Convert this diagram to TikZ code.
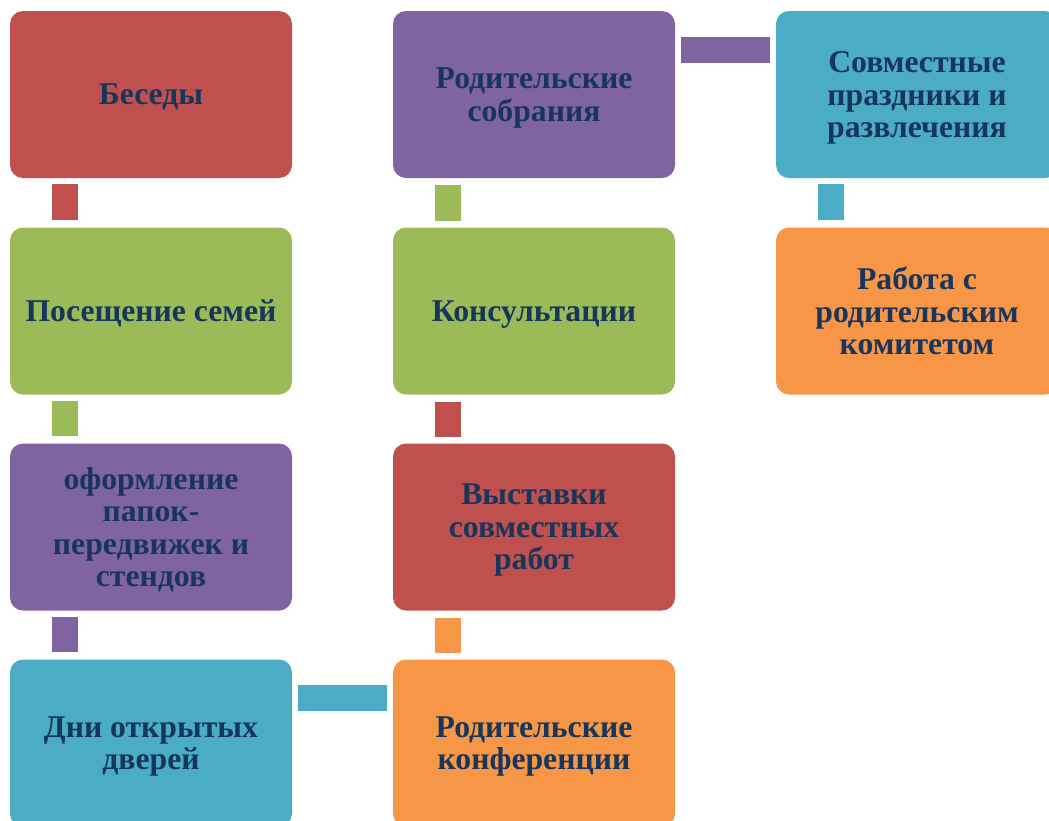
\documentclass[tikz,border=0pt]{standalone}
\usepackage{fontspec}
\setmainfont{Liberation Serif}
\usepackage{xcolor}
\usepackage{tikz}
\usetikzlibrary{calc}

\definecolor{boxred}{HTML}{C0504D}
\definecolor{boxgreen}{HTML}{9BBB59}
\definecolor{boxpurple}{HTML}{8064A2}
\definecolor{boxteal}{HTML}{4BACC6}
\definecolor{boxorange}{HTML}{F79646}
\definecolor{textblue}{HTML}{17365D}

\begin{document}
\begin{tikzpicture}[x=1pt,y=-1pt,
    card/.style={rounded corners=13pt, minimum width=282pt, minimum height=167pt,
                 inner sep=0pt, align=center, text=textblue, text depth=0pt,
                 font=\bfseries\fontsize{31.7}{32.5}\selectfont},
    link/.style={line width=26pt}]

\useasboundingbox (0,0) rectangle (1049,820);
\clip (0,0) rectangle (1049,820);

% First column
\node[card, fill=boxred]    (besedy)   at (151,94.5) {Беседы};
\node[card, fill=boxgreen]  (visits)   at (151,311)  {Посещение семей};
\node[card, fill=boxpurple] (stands)   at (151,527)  {оформление\\папок-\\передвижек и\\стендов};
\node[card, fill=boxteal]   (opendays) at (151,743)  {Дни открытых\\дверей};

% Second column
\node[card, fill=boxpurple] (meeting)  at (534,94.5) {Родительские\\собрания};
\node[card, fill=boxgreen]  (consult)  at (534,311)  {Консультации};
\node[card, fill=boxred]    (exhib)    at (534,527)  {Выставки\\совместных\\работ};
\node[card, fill=boxorange] (conf)     at (534,743)  {Родительские\\конференции};

% Third column
\node[card, fill=boxteal]   (holidays)  at (917,94.5) {Совместные\\праздники и\\развлечения};
\node[card, fill=boxorange] (committee) at (917,311)  {Работа с\\родительским\\комитетом};

% Links down the first column
\draw[link, boxred]    ($(besedy.south west)+(55,6)$) -- ($(visits.north west)+(55,-7)$);
\draw[link, boxgreen]  ($(visits.south west)+(55,6)$) -- ($(stands.north west)+(55,-7)$);
\draw[link, boxpurple] ($(stands.south west)+(55,6)$) -- ($(opendays.north west)+(55,-7)$);

% Link across the bottom
\draw[link, boxteal] ($(opendays.north east)+(6,39)$) -- ($(conf.north west)+(-6,39)$);

% Links up the second column
\draw[link, boxorange] ($(conf.north west)+(55,-6)$) -- ($(exhib.south west)+(55,7)$);
\draw[link, boxred]    ($(exhib.north west)+(55,-6)$) -- ($(consult.south west)+(55,7)$);
\draw[link, boxgreen]  ($(consult.north west)+(55,-6)$) -- ($(meeting.south west)+(55,7)$);

% Link across the top
\draw[link, boxpurple] ($(meeting.north east)+(6,39.5)$) -- ($(holidays.north west)+(-6,39.5)$);

% Link down the third column
\draw[link, boxteal] ($(holidays.south west)+(55,6)$) -- ($(committee.north west)+(55,-7)$);

\end{tikzpicture}
\end{document}
